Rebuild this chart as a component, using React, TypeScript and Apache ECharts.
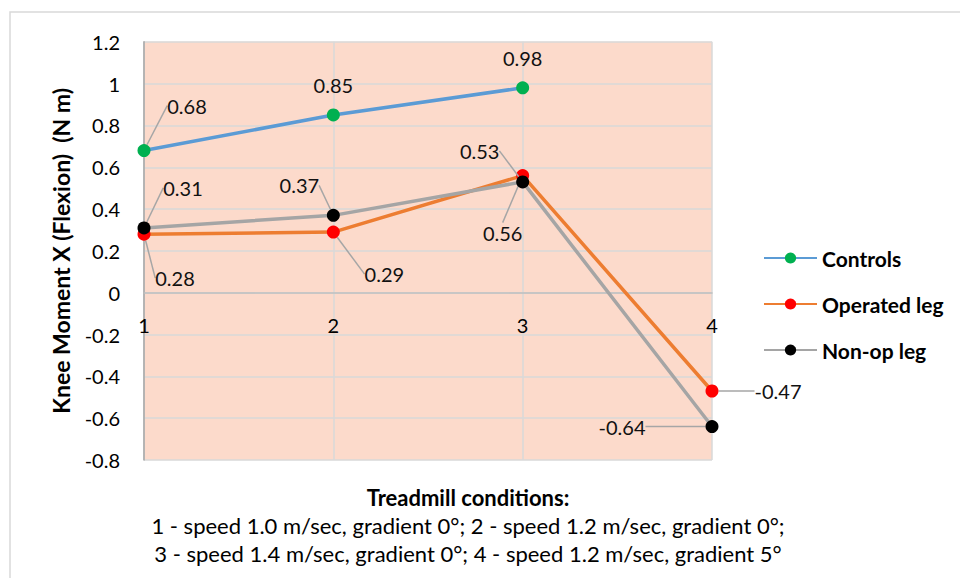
import React, { useEffect, useRef } from "react";
import * as echarts from "echarts";

// Treadmill condition categories and knee flexion moments (N m)
const conditions = ["1", "2", "3", "4"];
const controls = [0.68, 0.85, 0.98];
const operatedLeg = [0.28, 0.29, 0.56, -0.47];
const nonOpLeg = [0.31, 0.37, 0.53, -0.64];

const seriesNames = ["Controls", "Operated leg", "Non-op leg"];

const yTickMin = -0.8;
const yTickMax = 1.2;
const yTickStep = 0.2;

const xTitle = "Treadmill conditions:";
const xNoteLines = [
  "1 - speed 1.0 m/sec, gradient 0°; 2 - speed 1.2 m/sec, gradient 0°;",
  "3 - speed 1.4 m/sec, gradient 0°; 4 - speed 1.2 m/sec, gradient 5°",
];

// Label offsets (px from the marker centre) and whether a leader line is drawn
const labelOffsets: [number, number, boolean][][] = [
  [
    [43, -45, true],
    [0, -30, false],
    [0, -30, false],
  ],
  [
    [31, 44, true],
    [51, 42, true],
    [-20, 57, true],
    [66, 0, true],
  ],
  [
    [39, -40, true],
    [-34, -30, true],
    [-43, -31, true],
    [-90, 0, true],
  ],
];

const FONT = "Lato, 'Open Sans', sans-serif";

export default function App() {
  const ref = useRef<HTMLDivElement>(null);

  useEffect(() => {
    if (!ref.current) return;
    const chart = echarts.init(ref.current, null, { renderer: "svg" });

    const lineColors = ["#5b9bd5", "#ed7d31", "#a5a5a5"];
    const markerColors = ["#00b050", "#ff0000", "#000000"];
    const values = [controls, operatedLeg, nonOpLeg];

    const series = values.map((vals, si) => ({
      name: seriesNames[si],
      type: "line",
      data: vals.map((v, di) => ({
        value: v,
        labelLine: { show: labelOffsets[si][di][2] },
      })),
      symbol: "circle",
      symbolSize: 13,
      lineStyle: { color: lineColors[si], width: 3.5 },
      itemStyle: { color: markerColors[si] },
      z: 2 + si,
      label: {
        show: true,
        position: "inside",
        color: "#111",
        fontFamily: FONT,
        fontSize: 20,
        padding: [3, 5],
        formatter: (p: any) => String(p.value),
      },
      labelLine: {
        show: true,
        lineStyle: { color: "#a6a6a6", width: 1.5 },
      },
      labelLayout: (p: any) => {
        const o = labelOffsets[p.seriesIndex][p.dataIndex];
        return { dx: o[0], dy: o[1] };
      },
    }));

    chart.setOption({
      animation: false,
      backgroundColor: "#ffffff",
      textStyle: { fontFamily: FONT },
      grid: {
        left: 144,
        top: 41.8,
        right: 248,
        bottom: 118,
        show: true,
        backgroundColor: "#fcdacb",
        borderWidth: 0,
      },
      legend: {
        orient: "vertical",
        left: 758,
        top: 241,
        itemWidth: 53,
        itemHeight: 14,
        itemGap: 22,
        data: seriesNames,
        textStyle: {
          fontFamily: FONT,
          fontSize: 21,
          fontWeight: "bold",
          color: "#000",
          lineHeight: 24,
        },
      },
      xAxis: {
        type: "category",
        data: conditions,
        boundaryGap: false,
        axisLine: { onZero: true, lineStyle: { color: "#bfbfbf", width: 1.5 } },
        axisTick: { show: false },
        // labels sit just below the zero line
        axisLabel: { margin: -145, fontSize: 20, color: "#000", fontFamily: FONT },
        splitLine: { show: true, lineStyle: { color: "#d9d9d9", width: 1.5 } },
      },
      yAxis: {
        type: "value",
        min: yTickMin,
        max: yTickMax,
        interval: yTickStep,
        name: "Knee Moment X (Flexion)  (N m)",
        nameLocation: "middle",
        nameGap: 72,
        nameTextStyle: {
          fontFamily: FONT,
          fontSize: 23,
          fontWeight: "bold",
          color: "#000",
        },
        axisLine: { show: true, lineStyle: { color: "#a6a6a6", width: 1.5 } },
        axisTick: { show: false },
        axisLabel: {
          margin: 24,
          fontSize: 20,
          color: "#000",
          fontFamily: FONT,
          formatter: (v: number) => String(Math.round(v * 10) / 10),
        },
        splitLine: { show: true, lineStyle: { color: "#d9d9d9", width: 1.5 } },
      },
      graphic: [
        {
          type: "rect",
          silent: true,
          shape: { x: 10, y: 12, width: 1000, height: 700 },
          style: { fill: "none", stroke: "#d9d9d9", lineWidth: 1.5 },
        },
        {
          type: "text",
          x: 468,
          y: 497,
          style: {
            text: xTitle,
            fontFamily: FONT,
            fontSize: 22,
            fontWeight: "bold",
            fill: "#000",
            align: "center",
            verticalAlign: "middle",
          },
        },
        ...xNoteLines.map((t, i) => ({
          type: "text",
          x: 468,
          y: 525 + i * 28,
          style: {
            text: t,
            fontFamily: FONT,
            fontSize: 22,
            fill: "#000",
            align: "center",
            verticalAlign: "middle",
          },
        })),
      ],
      series,
    });

    return () => chart.dispose();
  }, []);

  return (
    <div
      ref={ref}
      style={{ position: "fixed", left: 0, top: 0, width: 960, height: 578 }}
    />
  );
}
